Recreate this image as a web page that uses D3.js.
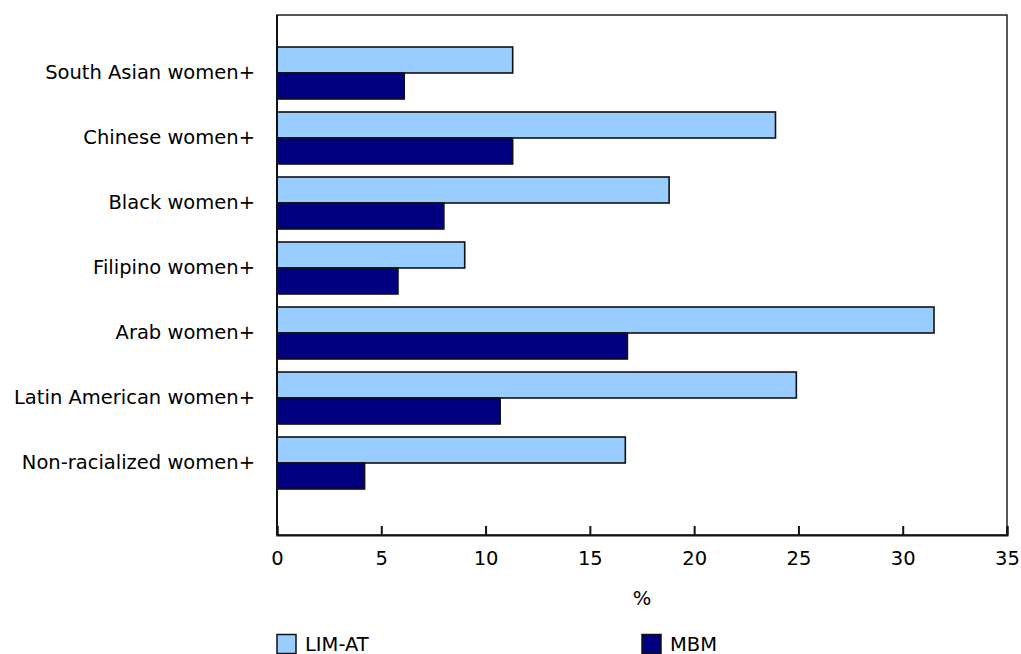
<!DOCTYPE html>
<html><head><meta charset="utf-8">
<script src="https://cdn.jsdelivr.net/npm/d3@7"></script>
<style>body{margin:0;background:#fff}svg{display:block}text{font-family:"DejaVu Sans",Verdana,sans-serif;fill:#000}</style>
</head><body>
<svg id="c" width="1021" height="654"></svg>
<script>
const categories = ["South Asian women+","Chinese women+","Black women+","Filipino women+","Arab women+","Latin American women+","Non-racialized women+"];
const limAt = [11.3,23.9,18.8,9.0,31.5,24.9,16.7];
const mbm = [6.1,11.3,8.0,5.8,16.8,10.7,4.2];
const seriesNames = ["LIM-AT","MBM"];
const xTicks = [0,5,10,15,20,25,30,35];
const xTitle = "%";

const FS = 19.5;
const colors = ["#99ccff","#000080"];
const svg = d3.select("#c");
const L=277, R=1007, T=15, B=535;
const x = d3.scaleLinear().domain([0,35]).range([L,R]);
const y = d3.scaleBand().domain(categories).range([40.5,495.5]).paddingInner(0.2).paddingOuter(0.1);
const ys = d3.scaleBand().domain(seriesNames).range([0,y.bandwidth()]);

// frame
svg.append("rect").attr("x",L).attr("y",T).attr("width",R-L).attr("height",B-T)
  .attr("fill","none").attr("stroke","#222").attr("stroke-width",1.5);

const series = [limAt, mbm];
series.forEach((vals,si)=>{
  svg.append("g").selectAll("rect").data(categories).join("rect")
    .attr("x",x(0)).attr("y",(d)=>y(d)+ys(seriesNames[si]))
    .attr("width",(d,i)=>x(vals[i])-x(0)).attr("height",ys.bandwidth())
    .attr("fill",colors[si]).attr("stroke","#111").attr("stroke-width",1.6);
});

// x axis
const xa = svg.append("g").attr("transform",`translate(0,${B})`)
  .call(d3.axisBottom(x).tickValues(xTicks).tickSize(-9).tickPadding(16).tickFormat(d3.format("d")));
xa.select(".domain").attr("stroke","#111").attr("stroke-width",2);
xa.selectAll(".tick line").attr("stroke","#111").attr("stroke-width",2);
xa.selectAll("text").attr("font-size",FS).attr("font-family","DejaVu Sans, Verdana, sans-serif");

// y axis
const ya = svg.append("g").attr("transform",`translate(${L},0)`)
  .call(d3.axisLeft(y).tickSize(0).tickPadding(22));
ya.select(".domain").attr("stroke","#111").attr("stroke-width",2).attr("d",`M0,${T}V${B}`);
ya.selectAll("text").attr("font-size",FS).attr("font-family","DejaVu Sans, Verdana, sans-serif");

svg.append("text").attr("x",x(17.5)).attr("y",605).attr("text-anchor","middle").attr("font-size",FS).text(xTitle);

// legend
const legX=[277,642];
seriesNames.forEach((n,i)=>{
  svg.append("rect").attr("x",legX[i]).attr("y",634.5).attr("width",19).attr("height",19)
    .attr("fill",colors[i]).attr("stroke","#111").attr("stroke-width",1.5);
  svg.append("text").attr("x",legX[i]+28).attr("y",651).attr("font-size",FS).text(n);
});
</script>
</body></html>
